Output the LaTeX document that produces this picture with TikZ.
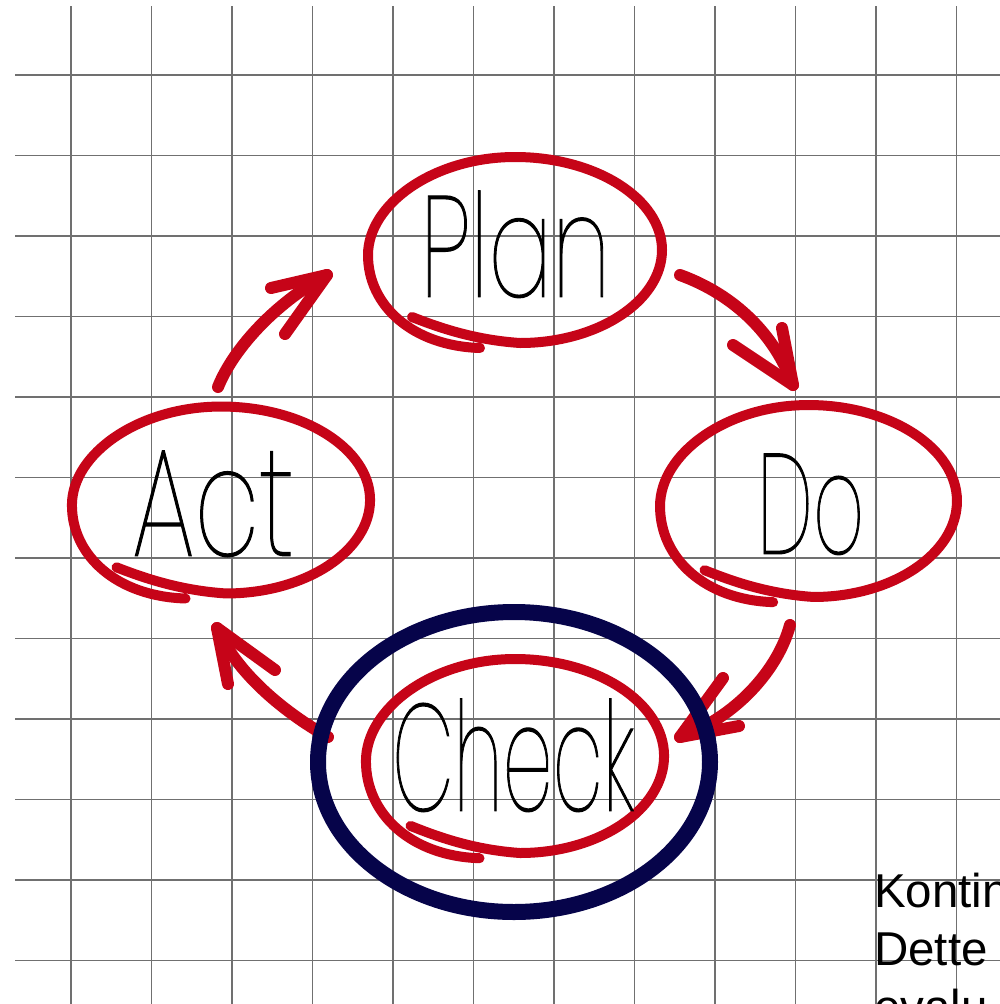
\documentclass[tikz,border=0pt]{standalone}
\usepackage{fontspec}
\usepackage{graphicx}
\usetikzlibrary{shapes.geometric}
% a thin sans for the pen-written words
\IfFontExistsTF{Poppins Thin}
  {\newfontfamily\handfont[FakeBold=0.9]{Poppins Thin}}
  {\IfFontExistsTF{Noto Sans Thin}
    {\newfontfamily\handfont[FakeBold=0.9]{Noto Sans Thin}}
    {\IfFontExistsTF{Lato Hairline}
      {\newfontfamily\handfont[FakeBold=0.9]{Lato Hairline}}
      {\IfFontExistsTF{Poppins ExtraLight}
        {\newfontfamily\handfont{Poppins ExtraLight}}
        {\newfontfamily\handfont[Extension=.otf]{lmmonoproplt10-regular}}}}}
\newfontfamily\notefont{Liberation Sans}
\definecolor{penred}{RGB}{198,4,24}
\definecolor{inknavy}{RGB}{6,4,74}
\definecolor{gridgray}{RGB}{112,112,112}
\tikzset{
  gridline/.style={draw=gridgray, line width=1.6pt},
  loopline/.style={draw=penred, line width=10pt, line cap=round, line join=round},
  flow/.style={draw=penred, line width=12pt, line cap=round, line join=round},
  focus/.style={ellipse, draw=inknavy, line width=16pt, inner sep=0pt},
  word/.style={inner sep=0pt, anchor=south west, text=black},
  note/.style={inner sep=0pt, anchor=base west, text=black,
    font=\notefont\fontsize{47.5}{58}\selectfont},
  % one pen loop drawn round a word: it starts inside at the lower left,
  % goes round clockwise and overshoots just outside its own start
  handloop/.pic={
    \draw[loopline] (-103,67) .. controls (-75,78) and (-40,90) .. (5,93)
      .. controls (83,93) and (147,51) .. (147,0)
      .. controls (147,-51) and (81,-93) .. (0,-93)
      .. controls (-81,-93) and (-147,-46) .. (-147,5)
      .. controls (-147,56) and (-102,96) .. (-35,98);
  },
}
\begin{document}
\begin{tikzpicture}[x=1pt, y=-1pt]
  \useasboundingbox (0,0) rectangle (1000,1004);
  \clip (0,0) rectangle (1000,1004);
  \fill[white] (0,0) rectangle (1000,1004);

  % squared paper
  \foreach \i in {0,...,11}
    \draw[gridline] ({71+80.5*\i},6) -- ({71+80.5*\i},1004);
  \foreach \j in {0,...,11}
    \draw[gridline] (15,{75+80.5*\j}) -- (1000,{75+80.5*\j});

  % the four stages, ringed in red pen
  \coordinate (plan) at (515,250);
  \coordinate (do) at (808.5,501);
  \coordinate (act) at (221,500);
  \coordinate (check) at (515,756);
  \pic at (plan) {handloop};
  \pic[xscale=1.01, yscale=1.032] at (do) {handloop};
  \pic[xscale=1.014, yscale=1.005] at (act) {handloop};
  \pic[xscale=1.014, yscale=1.043] at (check) {handloop};

  % stage labels
  \node[word] (plan-label) at (420,298) {\resizebox{190pt}{106pt}{\handfont Plan}};
  \node[word] (do-label) at (757,555) {\resizebox{107pt}{100pt}{\handfont Do}};
  \node[word] (act-label) at (132,557) {\resizebox{162pt}{105pt}{\handfont Act}};
  \node[word] (check-label) at (392,812) {\resizebox{242pt}{112pt}{\handfont Check}};

  % arrows between the stages
  \coordinate (pd-s) at (680,275);
  \coordinate (pd-t) at (793,385);
  \draw[flow] (pd-s) .. controls (735,295) and (775,335) .. (pd-t);
  \draw[flow] (733,345) -- (pd-t) -- (782,328);

  \coordinate (dc-s) at (790,625);
  \coordinate (dc-t) at (680,737);
  \draw[flow] (dc-s) .. controls (778,670) and (735,718) .. (dc-t);
  \draw[flow] (723,678) -- (dc-t) -- (739,726);

  \coordinate (ca-s) at (328,737);
  \coordinate (ca-t) at (217,628);
  \draw[flow] (ca-s) .. controls (280,710) and (235,670) .. (ca-t);
  \draw[flow] (228,684) -- (ca-t) -- (275,670);

  \coordinate (ap-s) at (218,387);
  \coordinate (ap-t) at (327,275);
  \draw[flow] (ap-s) .. controls (235,345) and (280,300) .. (ap-t);
  \draw[flow] (271,288) -- (ap-t) -- (285,334);

  % navy ring around the current stage
  \node[focus, minimum width=392pt, minimum height=300pt] (current) at (514,762) {};

  % side note, running off the page
  \node[note] (note1) at (874,907) {Kontin};
  \node[note] (note2) at (874,965) {Dette};
  \node[note] (note3) at (874,1023) {evalu};
\end{tikzpicture}
\end{document}
